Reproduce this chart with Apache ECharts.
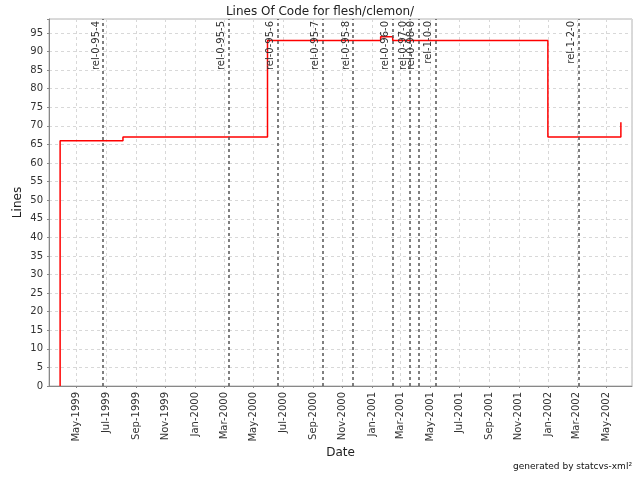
<!DOCTYPE html>
<html><head><meta charset="utf-8">
<script src="https://cdn.jsdelivr.net/npm/echarts@6/dist/echarts.min.js"></script>
<style>html,body{margin:0;padding:0;background:#fff}#c{width:640px;height:480px}</style>
</head><body><div id="c"></div>
<script>
// Step points: date where the count changes, and the new count
const changeDates = ['1999-03-28','1999-03-28','1999-08-05','2000-05-30','2001-01-19','2001-02-13','2001-12-31','2002-05-31'];
const lineCounts  = [0, 66, 67, 93, 94, 93, 67, 71];
// Release tags
const tagNames = ['rel-0-95-4','rel-0-95-5','rel-0-95-6','rel-0-95-7','rel-0-95-8','rel-0-96-0','rel-0-97-0','rel-0-98-0','rel-1-0-0','rel-1-2-0'];
const tagDates = ['1999-06-25','2000-03-11','2000-06-20','2000-09-21','2000-11-23','2001-02-13','2001-03-21','2001-04-08','2001-05-13','2002-03-05'];
const monthNames = ['Jan','Feb','Mar','Apr','May','Jun','Jul','Aug','Sep','Oct','Nov','Dec'];
const xMin = '1999-03-05', xMax = '2002-06-23';
const yMax = 98.76;

const FONT = 'DejaVu Sans';
const chart = echarts.init(document.getElementById('c'), null, {renderer:'canvas'});
const DAY = 86400000;
chart.setOption({
  animation: false,
  backgroundColor: '#fff',
  textStyle: {fontFamily: FONT},
  title: [
    {text: 'Lines Of Code for flesh/clemon/', left: 'center', top: 1,
     textStyle: {fontFamily: FONT, fontSize: 12, fontWeight: 'normal', color: '#222'}},
    {text: 'generated by statcvs-xml²', right: 3, bottom: 4,
     textStyle: {fontFamily: FONT, fontSize: 9, fontWeight: 'normal', color: '#111'}}
  ],
  grid: {left: 49, right: 8, top: 19, bottom: 94, show: true, borderColor: '#b4b4b4', borderWidth: 1},
  xAxis: {
    type: 'time', min: xMin, max: xMax,
    minInterval: 58 * DAY, maxInterval: 62 * DAY, splitNumber: 20,
    name: 'Date', nameLocation: 'middle', nameGap: 61, nameMoveOverlap: false,
    nameTextStyle: {fontFamily: FONT, fontSize: 12, color: '#222'},
    axisLine: {lineStyle: {color: '#888'}},
    axisTick: {show: true, length: 2, lineStyle: {color: '#888'}},
    axisLabel: {rotate: 90, fontFamily: FONT, fontSize: 10, color: '#333', margin: 6,
      hideOverlap: false,
      formatter: function (v) { const d = new Date(v); return monthNames[d.getMonth()] + '-' + d.getFullYear(); }},
    splitLine: {show: true, lineStyle: {color: '#d8d8d8', type: [3, 3], width: 1}}
  },
  yAxis: {
    type: 'value', min: 0, max: yMax, interval: 5,
    name: 'Lines', nameLocation: 'middle', nameGap: 25, nameMoveOverlap: false,
    nameTextStyle: {fontFamily: FONT, fontSize: 12, color: '#222'},
    axisLine: {show: true, lineStyle: {color: '#888'}},
    axisTick: {show: true, length: 2, lineStyle: {color: '#888'}},
    axisLabel: {fontFamily: FONT, fontSize: 10, color: '#333', margin: 6,
      formatter: function (v) { return (Math.abs(v % 5) < 1e-9) ? String(v) : ''; }},
    splitLine: {show: true, lineStyle: {color: '#d8d8d8', type: [3, 3], width: 1}}
  },
  series: [{
    type: 'line', step: 'end', symbol: 'none',
    data: changeDates.map((d, i) => [d, lineCounts[i]]),
    lineStyle: {color: '#ff0000', width: 1.5},
    markLine: {
      silent: true, symbol: ['none', 'none'],
      lineStyle: {color: '#555', type: [3, 3], width: 1.5},
      label: {show: true, position: 'insideEndTop', distance: 2, fontFamily: FONT, fontSize: 10, color: '#333',
        formatter: function (p) { return p.name; }},
      data: tagDates.map((d, i) => ({name: tagNames[i], xAxis: d}))
    }
  }]
});
</script></body></html>
